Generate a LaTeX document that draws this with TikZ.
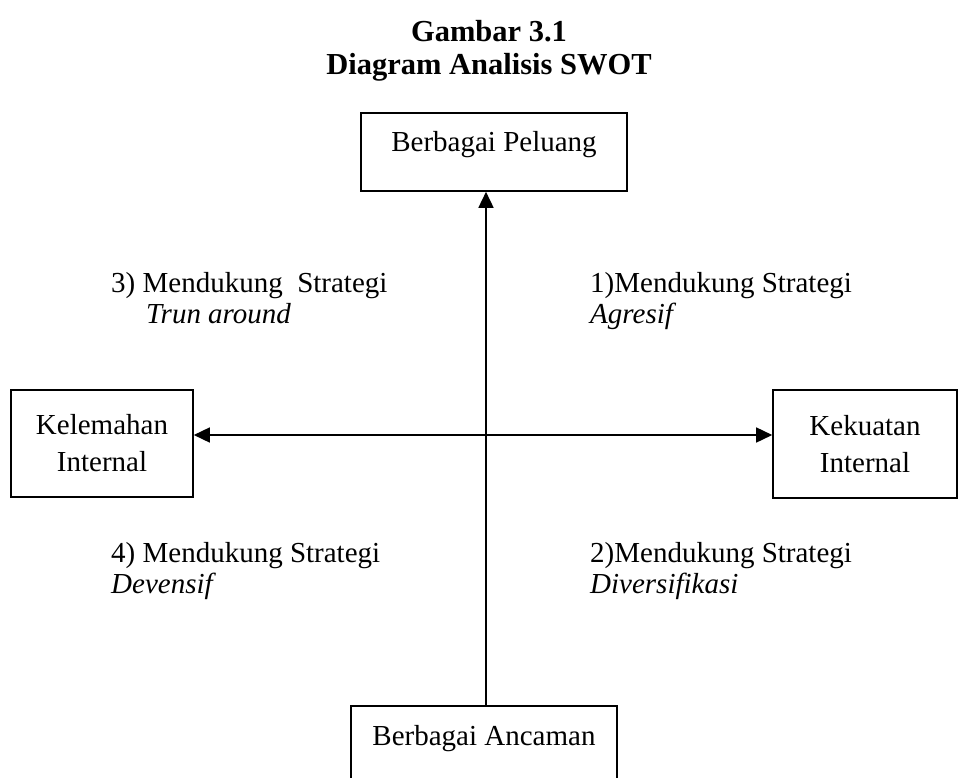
\documentclass[tikz,border=0pt]{standalone}
\usepackage{fontspec}
\setmainfont{Liberation Serif}
\usetikzlibrary{arrows.meta}

\begin{document}
\begin{tikzpicture}[x=1pt,y=-1pt,
    kotak/.style={draw, line width=1.6pt, align=center, inner xsep=0pt, font=\fontsize{29}{37}\selectfont},
    ket/.style={anchor=base west, inner sep=0pt, align=left, font=\fontsize{29}{31}\selectfont},
    panah/.style={line width=1.6pt}]
	\clip (0,0) rectangle (960,778);
	\node[align=center, inner sep=0pt, anchor=base, font=\bfseries\fontsize{30.5}{33}\selectfont] (judul) at (489,75) {Gambar 3.1\\Diagram Analisis SWOT};
	% kotak
	\node[kotak, minimum width=266pt, text height=20pt, text depth=20pt, inner ysep=19pt] (peluang) at (494,152) {Berbagai Peluang};
	\node[kotak, minimum width=266pt, text height=20pt, text depth=20pt, inner ysep=19pt] (ancaman) at (484,745) {Berbagai Ancaman};
	\node[kotak, minimum width=182pt, minimum height=107pt] (kelemahan) at (102,443.5) {Kelemahan\\Internal};
	\node[kotak, minimum width=184pt, minimum height=108pt] (kekuatan) at (865,444) {Kekuatan\\Internal};
	% sumbu
	\coordinate (pusat) at (486,435);
	\draw[panah, -{Triangle[length=16pt,width=15pt]}] (ancaman.north -| pusat) -- (peluang.south -| pusat);
	\draw[panah, {Triangle[length=16pt,width=15pt]}-{Triangle[length=16pt,width=15pt]}] (kelemahan.east |- pusat) -- (kekuatan.west |- pusat);
	% kuadran
	\node[ket] (strategi3) at (111,323) {3) Mendukung\ \ Strategi\\\hspace*{35pt}\textit{Trun around}};
	\node[ket] (strategi1) at (590,323) {1)Mendukung Strategi\\\textit{Agresif}};
	\node[ket] (strategi4) at (111,593) {4) Mendukung Strategi\\\textit{Devensif}};
	\node[ket] (strategi2) at (590,593) {2)Mendukung Strategi\\\textit{Diversifikasi}};
\end{tikzpicture}
\end{document}
